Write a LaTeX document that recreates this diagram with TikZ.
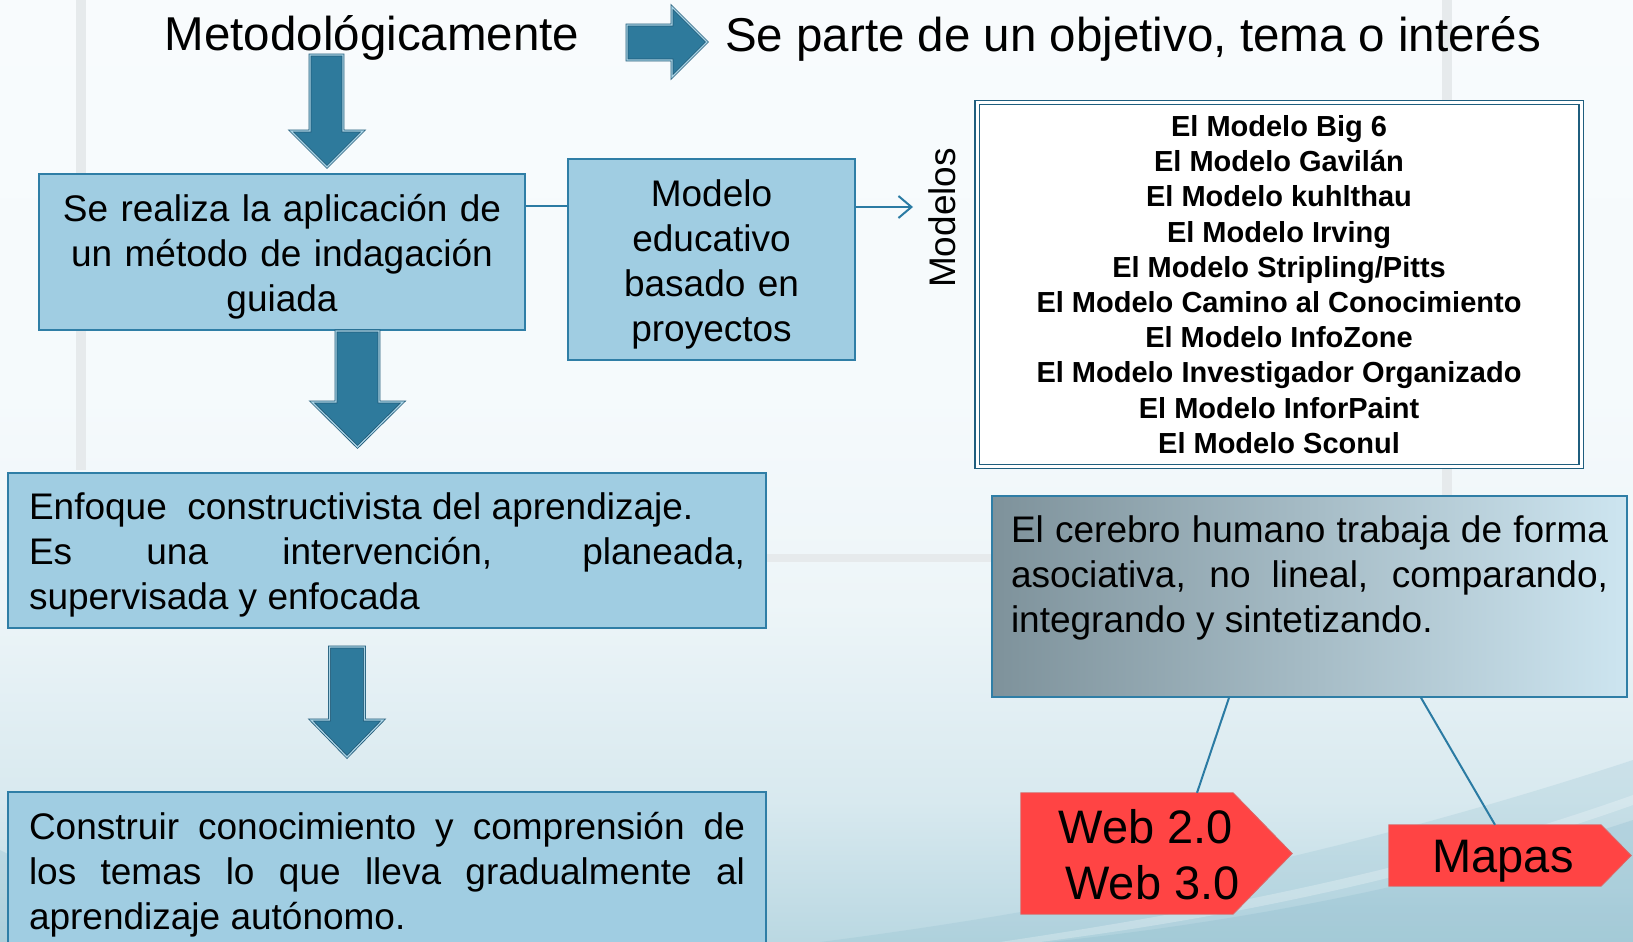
\documentclass[tikz,border=0pt]{standalone}
\usepackage{fontspec}
\setmainfont{Liberation Sans}
\usetikzlibrary{arrows.meta}
\tolerance=10000 \hbadness=10000 \hyphenpenalty=10000 \exhyphenpenalty=10000
\definecolor{boxfill}{HTML}{A0CDE2}
\definecolor{boxline}{HTML}{2F7EA6}
\definecolor{arrowfill}{HTML}{2E7A9C}
\definecolor{arrowedge}{HTML}{1F5A78}
\definecolor{arrowlight}{HTML}{A9D3E5}
\definecolor{connblue}{HTML}{2B7BA3}
\definecolor{modline}{HTML}{1F5E7E}
\definecolor{grayleft}{HTML}{7E929B}
\definecolor{grayright}{HTML}{CDE5F0}
\definecolor{redfill}{HTML}{FF4444}
\definecolor{rededge}{HTML}{D86A6A}
\definecolor{bgA}{HTML}{F8FBFD}
\definecolor{bgB}{HTML}{F5FAFC}
\definecolor{bgC}{HTML}{EDF5F8}
\definecolor{bgD}{HTML}{D8E9EF}
\definecolor{bgE}{HTML}{BAD8E2}
\definecolor{bgteal}{HTML}{7DB3C6}
\definecolor{stripe}{HTML}{E6EAEC}
\pgfdeclareverticalshading{bgshade}{100bp}{color(0bp)=(bgE); color(25bp)=(bgE); color(32.5bp)=(bgD);
  color(43bp)=(bgC); color(54bp)=(bgB); color(75bp)=(bgA); color(100bp)=(bgA)}
\begin{document}
\begin{tikzpicture}[x=1pt,y=-1pt,
  bluebox/.style={rectangle, draw=boxline, fill=boxfill, line width=1.5pt, inner sep=0pt},
  boxtext/.style={inner sep=0pt, font=\fontsize{37}{45}\selectfont},
  blockarrow/.style={fill=arrowfill, draw=arrowedge, line width=0.8pt, double=arrowlight,
    double distance=1.2pt, line join=miter},
  conn/.style={draw=connblue, line width=2pt},
  redshape/.style={fill=redfill, draw=rededge, line width=0.8pt},
  bigtext/.style={font=\fontsize{47.5}{57}\selectfont, inner sep=0pt},
]
\clip (0,0) rectangle (1633,942);
% background
\shade[shading=bgshade] (0,0) rectangle (1633,942);
\fill[bgteal, opacity=0.18] (820,942) .. controls (1150,900) and (1420,830) .. (1633,760) -- (1633,942) -- cycle;
\fill[bgteal, opacity=0.22] (1050,942) .. controls (1300,915) and (1480,870) .. (1633,820) -- (1633,942) -- cycle;
\fill[white, opacity=0.25] (1000,942) .. controls (1250,905) and (1450,860) .. (1633,795) -- (1633,805) .. controls (1450,870) and (1250,915) .. (1040,942) -- cycle;
\fill[bgteal, opacity=0.22] (0,942) -- (0,850) .. controls (50,875) and (120,915) .. (220,942) -- cycle;
\fill[stripe] (76,0) rectangle (86,470);
\fill[stripe] (1442,0) rectangle (1452,500);
\fill[stripe] (766,554) rectangle (992,562);

% title line
\node[bigtext, anchor=base] (metod) at (372,51) {Metodológicamente};
\node[bigtext, anchor=base west] (parte) at (725,52) {Se parte de un objetivo, tema o interés};
\path[blockarrow] (627,25) -- (672,25) -- (672,7) -- (707,42) -- (672,77) -- (672,60) -- (627,60) -- cycle;

% left column
\path[blockarrow] (310,55) -- (343,55) -- (343,131) -- (363,131) -- (327,167) -- (291,131) -- (310,131) -- cycle;
\node[bluebox, minimum width=486, minimum height=156] (aplic) at (282,252) {};
\node[boxtext, text width=470, align=center] (aplictxt) at ([yshift=-5pt]aplic.center)
  {Se realiza la aplicación de\\un método de indagación\\guiada};
\node[bluebox, minimum width=287, minimum height=201] (modelo) at (711.5,259.5) {};
\node[boxtext, text width=270, align=center] (modelotxt) at ([yshift=-5pt]modelo.center)
  {Modelo\\educativo\\basado en\\proyectos};
\coordinate (l1) at (0,206);
\coordinate (l2) at (0,207);
\coordinate (mtip) at (913,207);
\draw[conn] (aplic.east |- l1) -- (modelo.west |- l1);
\draw[conn, -{Straight Barb[length=13pt,width=22pt]}] (modelo.east |- l2) -- (mtip);

\path[blockarrow] (336,331) -- (379,331) -- (379,402) -- (403,402) -- (357.5,447) -- (312,402) -- (336,402) -- cycle;
\node[bluebox, minimum width=758, minimum height=155] (enfoque) at (387,550.5) {};
\node[boxtext, text width=716, align=justify] (enfoquetxt) at ([yshift=-4pt]enfoque.center)
  {Enfoque\ \ constructivista del aprendizaje.\\Es una intervención, planeada,\linebreak supervisada y enfocada};
\path[blockarrow] (329.5,647) -- (364.5,647) -- (364.5,720) -- (383,720) -- (347,757) -- (311,720) -- (329.5,720) -- cycle;
\node[bluebox, minimum width=758, minimum height=160] (construir) at (387,872) {};
\node[boxtext, text width=716, align=justify] (construirtxt) at ([yshift=-3pt]construir.center)
  {Construir conocimiento y comprensión de\linebreak los temas lo que lleva gradualmente al\linebreak aprendizaje autónomo.};

% right column
\node[rotate=90, font=\fontsize{37}{45}\selectfont, inner sep=0pt] (modelos) at (942,218) {Modelos};
\node[rectangle, fill=white, draw=modline, line width=1.2pt, double=white, double distance=3pt,
  minimum width=604, minimum height=364, align=center, inner sep=0pt,
  font=\fontsize{29}{35.2}\selectfont\bfseries] (lista) at (1279,284.5)
  {El Modelo Big 6\\El Modelo Gavilán\\El Modelo kuhlthau\\El Modelo Irving\\El Modelo Stripling/Pitts\\
   El Modelo Camino al Conocimiento\\El Modelo InfoZone\\El Modelo Investigador Organizado\\
   El Modelo InforPaint\\El Modelo Sconul};

\node[rectangle, draw=boxline, line width=1.5pt, left color=grayleft, right color=grayright,
  minimum width=635, minimum height=201, inner sep=0pt] (cerebro) at (1309.5,596.5) {};
\node[boxtext, text width=597, align=justify] (cerebrotxt) at ([yshift=18.5pt]cerebro.center)
  {El cerebro humano trabaja de forma\linebreak asociativa, no lineal, comparando,\linebreak integrando y sintetizando.};

% red tags
\node[minimum width=212, minimum height=121, inner sep=0pt] (web) at (1127,853.5) {};
\path[redshape] (web.north west) -- (web.north east) -- ([xshift=59pt]web.east) -- (web.south east) -- (web.south west) -- cycle;
\node[align=center, font=\fontsize{47}{56}\selectfont, inner sep=0pt] (webtxt) at (1146,855) {Web 2.0\\\ Web 3.0};

\node[minimum width=212, minimum height=61, inner sep=0pt] (mapas) at (1495,855.5) {};
\path[redshape] (mapas.north west) -- (mapas.north east) -- ([xshift=30pt]mapas.east) -- (mapas.south east) -- (mapas.south west) -- cycle;
\node[font=\fontsize{47}{56}\selectfont, inner sep=0pt] (mapastxt) at (1503,861) {Mapas};

\coordinate (c1) at (1229,0);
\coordinate (c2) at (1197,0);
\coordinate (c3) at (1421,0);
\draw[conn] (cerebro.south -| c1) -- (web.north -| c2);
\draw[conn] (cerebro.south -| c3) -- (mapas.north);
\end{tikzpicture}
\end{document}
